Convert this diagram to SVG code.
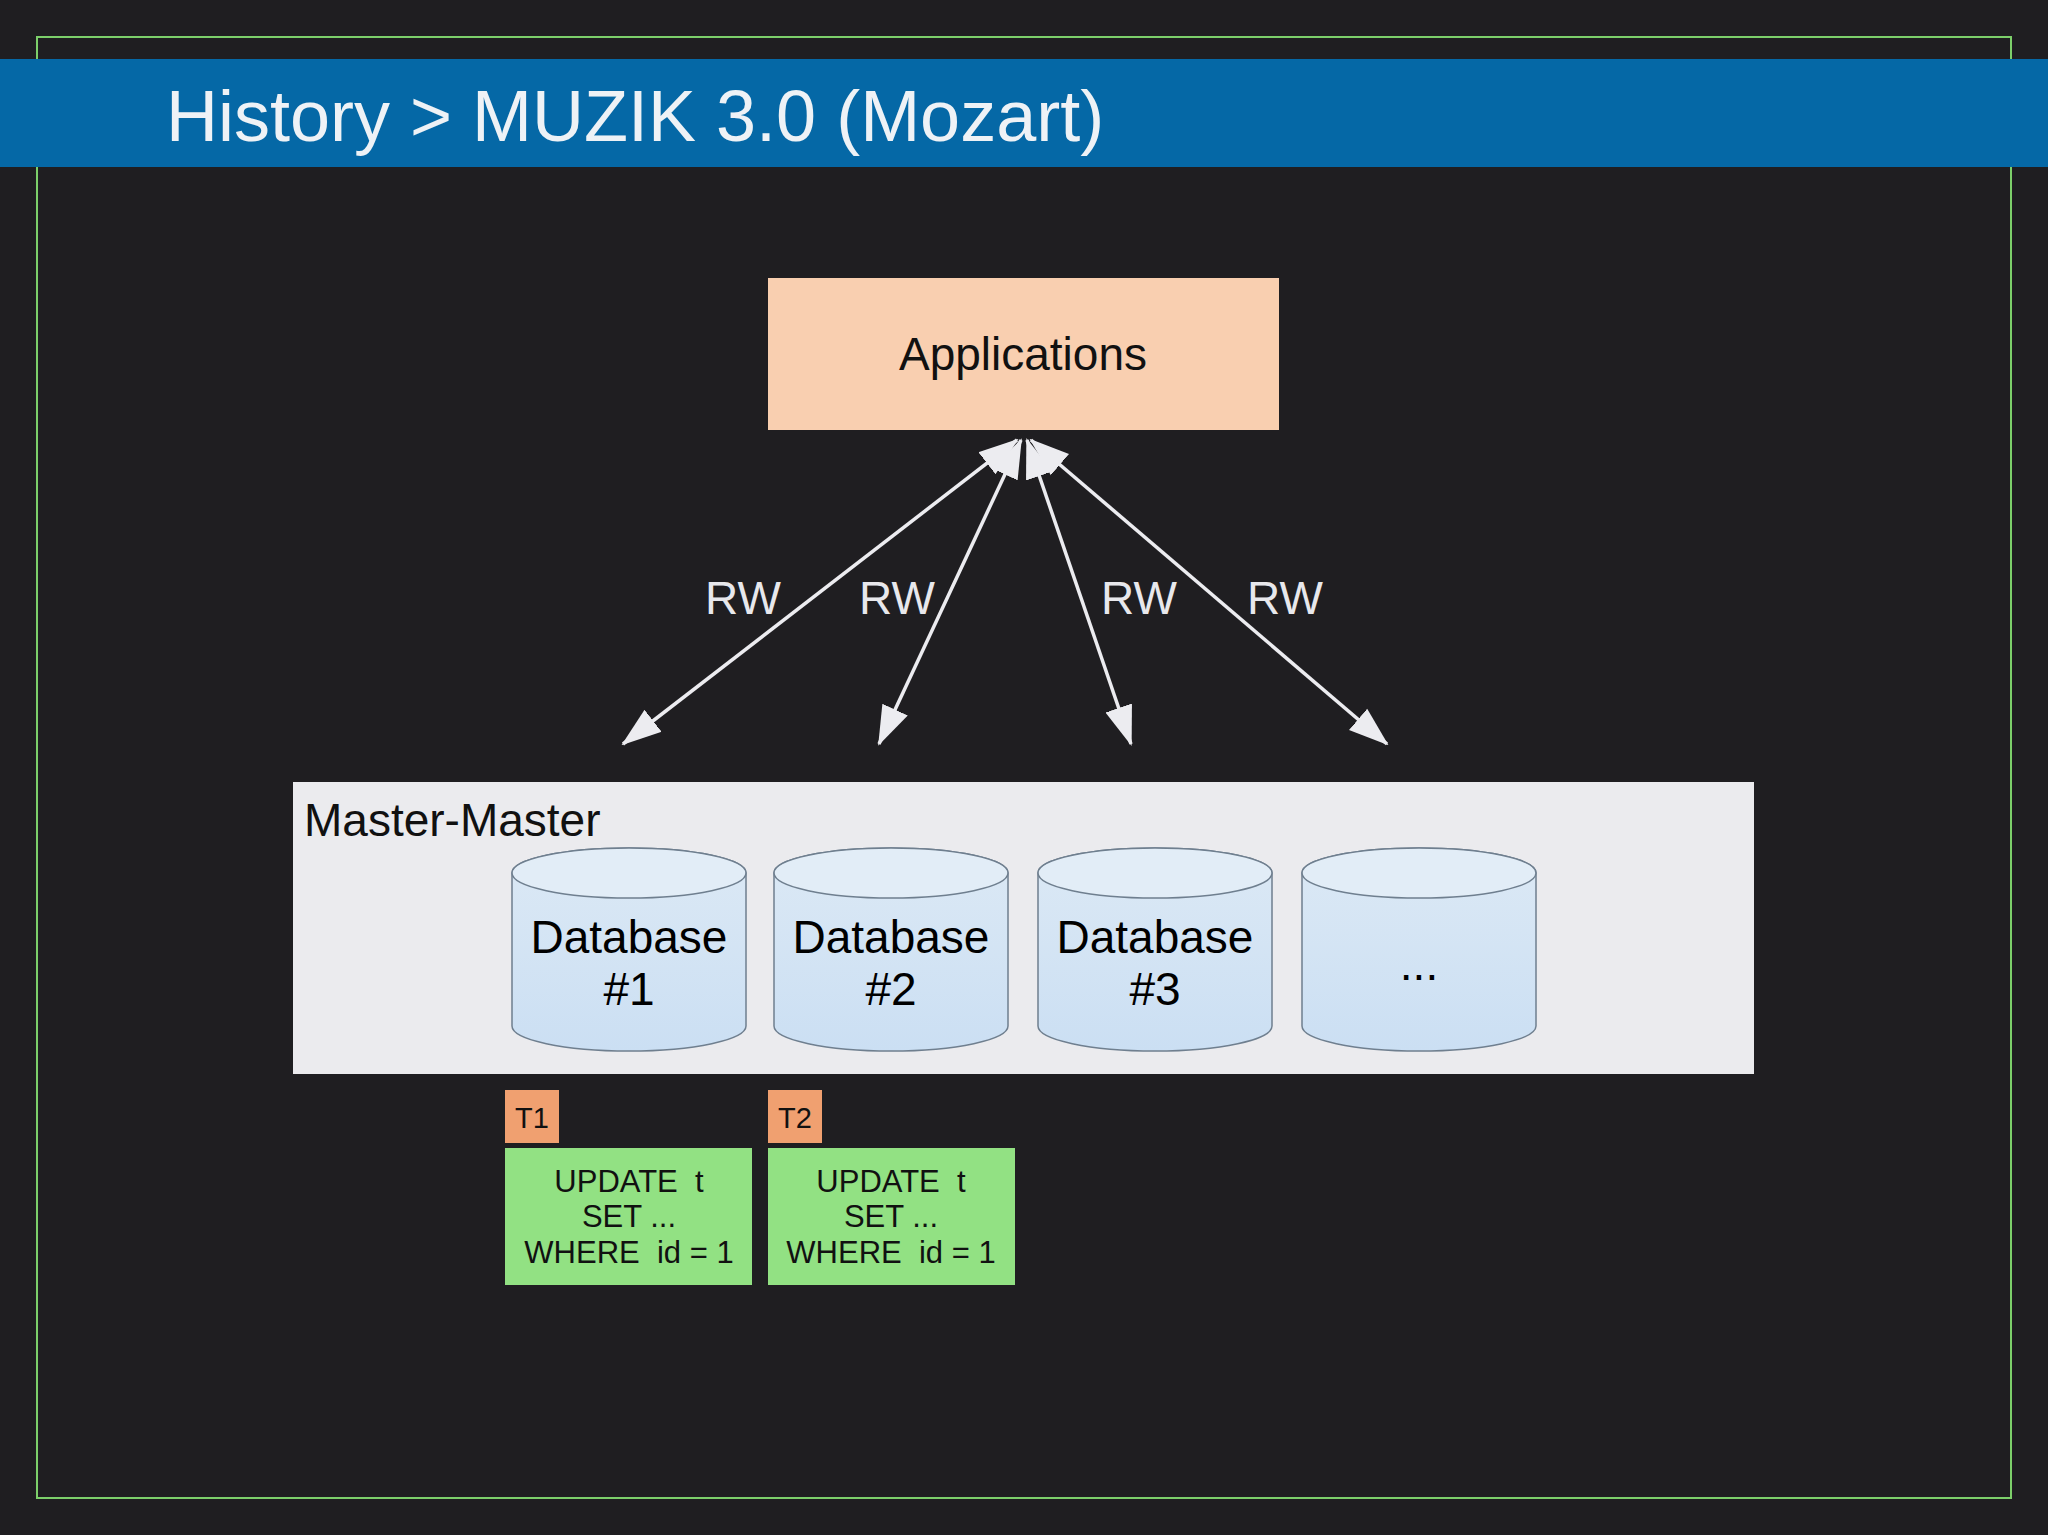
<svg xmlns="http://www.w3.org/2000/svg" width="2048" height="1535" viewBox="0 0 2048 1535">
<style>
text{font-family:"Liberation Sans",Arial,sans-serif}
.db{fill:url(#g);stroke:#6f7f8f;stroke-width:1.5}
.dbt{font-size:46px;fill:#000;text-anchor:middle}
.rw{font-size:46px;fill:#e8e8ec;text-anchor:middle}
.sql{font-size:31px;fill:#111;text-anchor:middle;white-space:pre}
.t{font-size:29px;fill:#111}
.conn line{stroke:#ececf0;stroke-width:3.5;marker-start:url(#ah);marker-end:url(#ah)}
</style>
<defs>
<linearGradient id="g" x1="0" y1="0" x2="0" y2="1"><stop offset="0" stop-color="#dce9f5"/><stop offset="1" stop-color="#cbdff3"/></linearGradient>
<marker id="ah" viewBox="0 0 40 30" refX="38" refY="15" markerWidth="40" markerHeight="30" markerUnits="userSpaceOnUse" orient="auto-start-reverse"><path d="M0,1 L40,15 L0,29 Z" fill="#ececf0"/></marker>
</defs>
<rect width="2048" height="1535" fill="#1f1e21"/>
<rect x="37" y="37" width="1974" height="1461" fill="none" stroke="#7ccf6a" stroke-width="2"/>
<rect x="0" y="59" width="2048" height="108" fill="#0568a6"/>
<text x="166" y="141" font-size="72" fill="#eef2f6">History &gt; MUZIK 3.0 (Mozart)</text>
<g id="applications"><rect x="768" y="278" width="511" height="152" fill="#f9cfb0"/><text x="1023" y="370" font-size="46" text-anchor="middle" fill="#111">Applications</text></g>
<g id="connectors" class="conn">
<line x1="1017" y1="440" x2="623" y2="744"/>
<line x1="1021" y1="440" x2="879" y2="744"/>
<line x1="1027" y1="440" x2="1131" y2="744"/>
<line x1="1031" y1="440" x2="1387" y2="744"/>
</g>
<text class="rw" x="743" y="614">RW</text>
<text class="rw" x="897" y="614">RW</text>
<text class="rw" x="1139" y="614">RW</text>
<text class="rw" x="1285" y="614">RW</text>
<g id="master-master"><rect x="293" y="782" width="1461" height="292" fill="#ebebee"/><text x="304" y="836" font-size="46" fill="#111">Master-Master</text></g>
<g id="db1"><path class="db" d="M512,873 A117,25 0 0 1 746,873 V1026 A117,25 0 0 1 512,1026 Z"/><ellipse cx="629" cy="873" rx="117" ry="25" fill="#e2edf7" stroke="#6f7f8f" stroke-width="1.5"/><text class="dbt" x="629" y="953">Database</text><text class="dbt" x="629" y="1005">#1</text></g>
<g id="db2"><path class="db" d="M774,873 A117,25 0 0 1 1008,873 V1026 A117,25 0 0 1 774,1026 Z"/><ellipse cx="891" cy="873" rx="117" ry="25" fill="#e2edf7" stroke="#6f7f8f" stroke-width="1.5"/><text class="dbt" x="891" y="953">Database</text><text class="dbt" x="891" y="1005">#2</text></g>
<g id="db3"><path class="db" d="M1038,873 A117,25 0 0 1 1272,873 V1026 A117,25 0 0 1 1038,1026 Z"/><ellipse cx="1155" cy="873" rx="117" ry="25" fill="#e2edf7" stroke="#6f7f8f" stroke-width="1.5"/><text class="dbt" x="1155" y="953">Database</text><text class="dbt" x="1155" y="1005">#3</text></g>
<g id="db4"><path class="db" d="M1302,873 A117,25 0 0 1 1536,873 V1026 A117,25 0 0 1 1302,1026 Z"/><ellipse cx="1419" cy="873" rx="117" ry="25" fill="#e2edf7" stroke="#6f7f8f" stroke-width="1.5"/><text class="dbt" x="1419" y="980">...</text></g>
<g id="t1"><rect x="505" y="1090" width="54" height="53" fill="#f0a070"/><text class="t" x="515" y="1128">T1</text></g>
<g id="t2"><rect x="768" y="1090" width="54" height="53" fill="#f0a070"/><text class="t" x="778" y="1128">T2</text></g>
<g id="sql1"><rect x="505" y="1148" width="247" height="137" fill="#92e183"/><text class="sql" x="629" y="1192">UPDATE  t</text><text class="sql" x="629" y="1227">SET ...</text><text class="sql" x="629" y="1263">WHERE  id = 1</text></g>
<g id="sql2"><rect x="768" y="1148" width="247" height="137" fill="#92e183"/><text class="sql" x="891" y="1192">UPDATE  t</text><text class="sql" x="891" y="1227">SET ...</text><text class="sql" x="891" y="1263">WHERE  id = 1</text></g>
</svg>
